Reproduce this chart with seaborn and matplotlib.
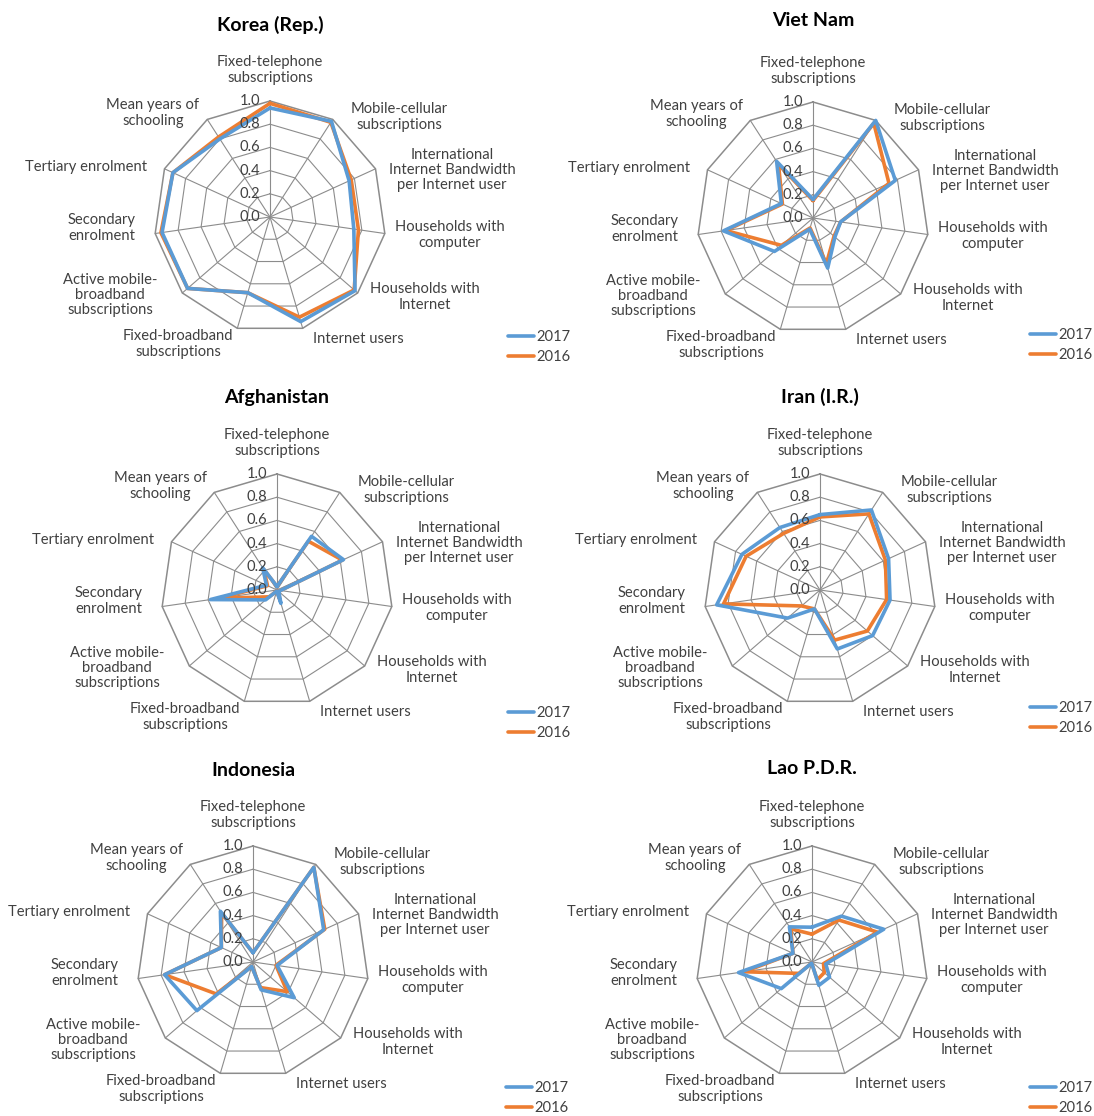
import numpy as np
import pandas as pd
import matplotlib
matplotlib.use("Agg")
import matplotlib.pyplot as plt
import seaborn as sns

# axis categories, clockwise from the top
categories = [
    "Fixed-telephone\nsubscriptions",
    "Mobile-cellular\nsubscriptions",
    "International\nInternet Bandwidth\nper Internet user",
    "Households with\ncomputer",
    "Households with\nInternet",
    "Internet users",
    "Fixed-broadband\nsubscriptions",
    "Active mobile-\nbroadband\nsubscriptions",
    "Secondary\nenrolment",
    "Tertiary enrolment",
    "Mean years of\nschooling",
]
years = ["2017", "2016"]
rticks = [0.0, 0.2, 0.4, 0.6, 0.8, 1.0]

# values (0..1 scale)
korea_2017 = [0.94, 0.98, 0.75, 0.73, 0.97, 0.94, 0.68, 0.94, 0.94, 0.92, 0.80]
korea_2016 = [0.98, 0.97, 0.77, 0.77, 0.96, 0.90, 0.68, 0.94, 0.95, 0.92, 0.82]
vietnam_2017 = [0.16, 1.00, 0.78, 0.24, 0.25, 0.45, 0.10, 0.44, 0.78, 0.30, 0.58]
vietnam_2016 = [0.15, 0.97, 0.72, 0.24, 0.24, 0.41, 0.09, 0.36, 0.76, 0.29, 0.55]
afghanistan_2017 = [0.03, 0.55, 0.63, 0.03, 0.02, 0.12, 0.01, 0.13, 0.58, 0.10, 0.23]
afghanistan_2016 = [0.03, 0.50, 0.62, 0.03, 0.02, 0.08, 0.01, 0.09, 0.50, 0.09, 0.21]
iran_2017 = [0.65, 0.82, 0.65, 0.61, 0.60, 0.53, 0.17, 0.37, 0.90, 0.74, 0.64]
iran_2016 = [0.63, 0.78, 0.62, 0.58, 0.54, 0.45, 0.17, 0.21, 0.84, 0.70, 0.58]
indonesia_2017 = [0.08, 0.97, 0.67, 0.21, 0.47, 0.25, 0.04, 0.64, 0.77, 0.30, 0.52]
indonesia_2016 = [0.08, 0.97, 0.68, 0.20, 0.39, 0.23, 0.04, 0.42, 0.77, 0.30, 0.50]
lao_2017 = [0.30, 0.47, 0.68, 0.12, 0.20, 0.21, 0.01, 0.35, 0.64, 0.18, 0.36]
lao_2016 = [0.24, 0.43, 0.62, 0.10, 0.14, 0.16, 0.01, 0.15, 0.59, 0.18, 0.34]

BLUE = "#5B9BD5"
ORANGE = "#ED7D31"
GRID = "#8C8C8C"
TXT = "#404040"
FS = 10.6

sns.set_style("white")
plt.rcParams["font.family"] = ["Lato", "DejaVu Sans"]

W, H = 1094, 1116
R = 116  # radar radius in px
fig = plt.figure(figsize=(W / 100, H / 100), dpi=100)

n = len(categories)
theta = np.linspace(0, 2 * np.pi, n, endpoint=False)
theta_closed = np.append(theta, 2 * np.pi)

# label centre offsets from the radar centre, px (x right, y down)
label_off = [(0, -147), (129, -100), (182, -47), (180, 18), (155, 80), (88, 122),
             (-92, 127), (-160, 78), (-168, 11), (-184, -50), (-117, -104)]


def radar(title, v17, v16, cx, cy, ty, lx, ly):
    ax = fig.add_axes([(cx - R) / W, 1 - (cy + R) / H, 2 * R / W, 2 * R / H],
                      projection="polar")
    ax.set_theta_zero_location("N")
    ax.set_theta_direction(-1)
    ax.grid(False)
    ax.spines["polar"].set_visible(False)
    ax.patch.set_alpha(0)

    # polygon grid
    for r in rticks[1:]:
        ax.plot(theta_closed, [r] * (n + 1), color=GRID, lw=0.8 if r < 1 else 1.1,
                clip_on=False, zorder=1)
    for t in theta:
        ax.plot([t, t], [0, 1], color=GRID, lw=0.8, clip_on=False, zorder=1)

    df = pd.DataFrame({
        "theta": np.concatenate([theta_closed, theta_closed]),
        "value": list(v16) + [v16[0]] + list(v17) + [v17[0]],
        "year": ["2016"] * (n + 1) + ["2017"] * (n + 1),
    })
    sns.lineplot(data=df, x="theta", y="value", hue="year", hue_order=["2016", "2017"],
                 palette={"2016": ORANGE, "2017": BLUE}, sort=False, estimator=None,
                 lw=2.6, ax=ax)
    for ln in ax.lines:
        ln.set_clip_on(False)
    ax.set_xlim(0, 2 * np.pi)
    ax.set_ylim(0, 1)
    ax.set_xticks([])
    ax.set_yticks([])
    ax.set_xlabel("")
    ax.set_ylabel("")

    for r in rticks:
        ax.annotate(f"{r:.1f}", xy=(0, r), xytext=(-10, 0), textcoords="offset pixels",
                    ha="right", va="center", fontsize=FS, color=TXT)
    for lab, (dx, dy) in zip(categories, label_off):
        ax.annotate(lab, xy=(0, 0), xytext=(dx, -dy), textcoords="offset pixels",
                    ha="center", va="center", multialignment="center",
                    fontsize=FS, color=TXT, linespacing=1.1)

    fig.text(cx / W, 1 - ty / H, title, ha="center", va="center",
             fontsize=14, fontweight="bold", color="black")

    handles, labels = ax.get_legend_handles_labels()
    ax.get_legend().remove()
    order = [labels.index(y) for y in years]
    ax.legend([handles[i] for i in order], [labels[i] for i in order],
              loc="upper left", bbox_to_anchor=(lx / W, 1 - ly / H),
              bbox_transform=fig.transFigure, frameon=False, borderpad=0,
              borderaxespad=0, handlelength=1.75, handletextpad=0.2,
              labelspacing=0.4, fontsize=FS, labelcolor=TXT)


radar("Korea (Rep.)", korea_2017, korea_2016, 270, 217, 25, 508, 330)
radar("Viet Nam", vietnam_2017, vietnam_2016, 813, 218, 20, 1030, 328)
radar("Afghanistan", afghanistan_2017, afghanistan_2016, 277, 590, 398, 508, 706)
radar("Iran (I.R.)", iran_2017, iran_2016, 820, 590, 397, 1030, 701)
radar("Indonesia", indonesia_2017, indonesia_2016, 253, 962, 770, 506, 1081)
radar("Lao P.D.R.", lao_2017, lao_2016, 812, 962, 768, 1030, 1081)

fig.savefig("out.png", dpi=100)
